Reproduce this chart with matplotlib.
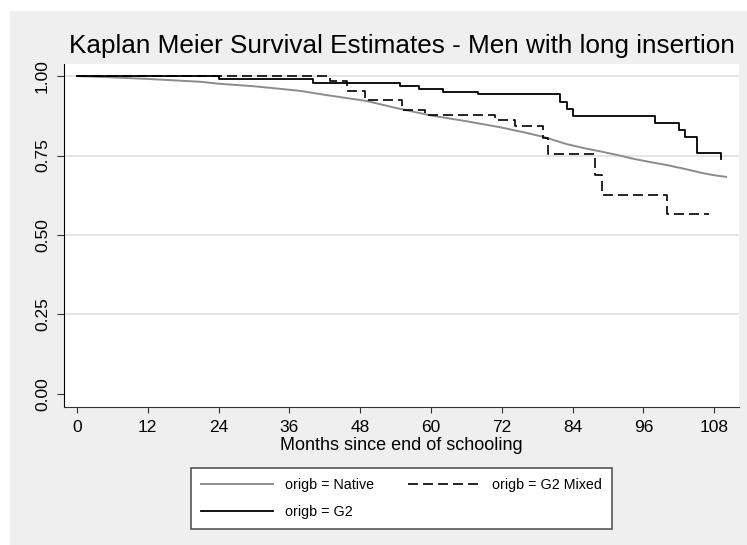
import matplotlib
matplotlib.use('Agg')
import matplotlib.pyplot as plt
from matplotlib.patches import Rectangle

plt.rcParams['font.family'] = ['Liberation Sans', 'DejaVu Sans']

# Native: KM estimate (many tiny steps, drawn as a line)
native_t = [0, 6, 12, 18, 21, 24, 30, 36, 38, 42, 46, 49, 54, 60, 66, 72, 76, 79, 83,
            86, 89, 92, 94, 97, 100, 103, 106, 108, 110]
native_s = [1.0, 0.996, 0.991, 0.985, 0.982, 0.976, 0.968, 0.957, 0.953, 0.941, 0.930,
            0.922, 0.900, 0.876, 0.858, 0.838, 0.822, 0.809, 0.786, 0.773, 0.762,
            0.750, 0.741, 0.730, 0.720, 0.708, 0.695, 0.688, 0.683]

# G2 Mixed: step function
mixed_t = [0, 42.9, 45.7, 48.8, 55, 59, 70.9, 74.3, 79, 79.9, 87.8, 89, 100, 107.2]
mixed_s = [1.0, 0.985, 0.954, 0.925, 0.893, 0.877, 0.862, 0.844, 0.804, 0.754,
           0.689, 0.626, 0.566, 0.566]

# G2: step function
g2_t = [0, 24, 40, 54.8, 58, 62.1, 68, 81.9, 83, 84, 98, 102.1, 103.1, 105.1, 109.1]
g2_s = [1.0, 0.99, 0.979, 0.968, 0.959, 0.951, 0.943, 0.919, 0.896, 0.875, 0.853,
        0.830, 0.807, 0.759, 0.738]

x_ticks = [0, 12, 24, 36, 48, 60, 72, 84, 96, 108]
y_ticks = [0.0, 0.25, 0.5, 0.75, 1.0]

fig = plt.figure(figsize=(7.47, 5.45), dpi=100)
fig.patch.set_facecolor('white')
# grey graph region
fig.add_artist(Rectangle((10/747, 0), 1, 1 - 11/545, transform=fig.transFigure,
                         facecolor='#efefef', edgecolor='none', zorder=0))

ax = fig.add_axes([64/747, 1 - 407/545, (739-64)/747, (407-64)/545])
ax.set_facecolor('white')

for y in y_ticks[1:]:
    ax.axhline(y, color='#e4e4e4', lw=1.4, zorder=1)

ax.plot(native_t, native_s, color='#8c8c8c', lw=1.4, label='origb = Native', zorder=2)
ax.step(mixed_t, mixed_s, where='post', color='black', lw=1.2, dashes=(6, 3),
        label='origb = G2 Mixed', zorder=3)
ax.step(g2_t, g2_s, where='post', color='black', lw=1.3, label='origb = G2', zorder=4)

ax.set_xlim(-2.2, 112.2)
ax.set_ylim(-0.041, 1.038)
ax.set_xticks(x_ticks)
ax.set_yticks(y_ticks)
ax.set_yticklabels(['0.00', '0.25', '0.50', '0.75', '1.00'], rotation=90, va='center')
ax.tick_params(axis='y', length=5, width=0.8, color='#333333', pad=5, labelsize=12.5)
ax.tick_params(axis='x', length=4.5, width=0.8, color='#333333', pad=5, labelsize=12.5)

ax.spines['top'].set_visible(False)
ax.spines['right'].set_visible(False)
ax.spines['left'].set_color('black')
ax.spines['bottom'].set_color('#333333')

ax.set_xlabel('Months since end of schooling', fontsize=13, labelpad=1)
fig.text(402/747, 1 - 46/545, 'Kaplan Meier Survival Estimates - Men with long insertion',
         ha='center', va='center', fontsize=18.8)

handles, labels = ax.get_legend_handles_labels()
order = [0, 2, 1]
leg = fig.legend([handles[i] for i in order], [labels[i] for i in order],
                 loc='center', bbox_to_anchor=(401.5/747, 1 - 498.5/545), ncol=2,
                 fontsize=10.3, handlelength=5.0, handletextpad=0.85, columnspacing=2.4,
                 labelspacing=0.9, borderpad=0.7, fancybox=False, framealpha=1,
                 edgecolor='#555555')
leg.get_frame().set_linewidth(1.2)

fig.savefig('out.png', dpi=100)
